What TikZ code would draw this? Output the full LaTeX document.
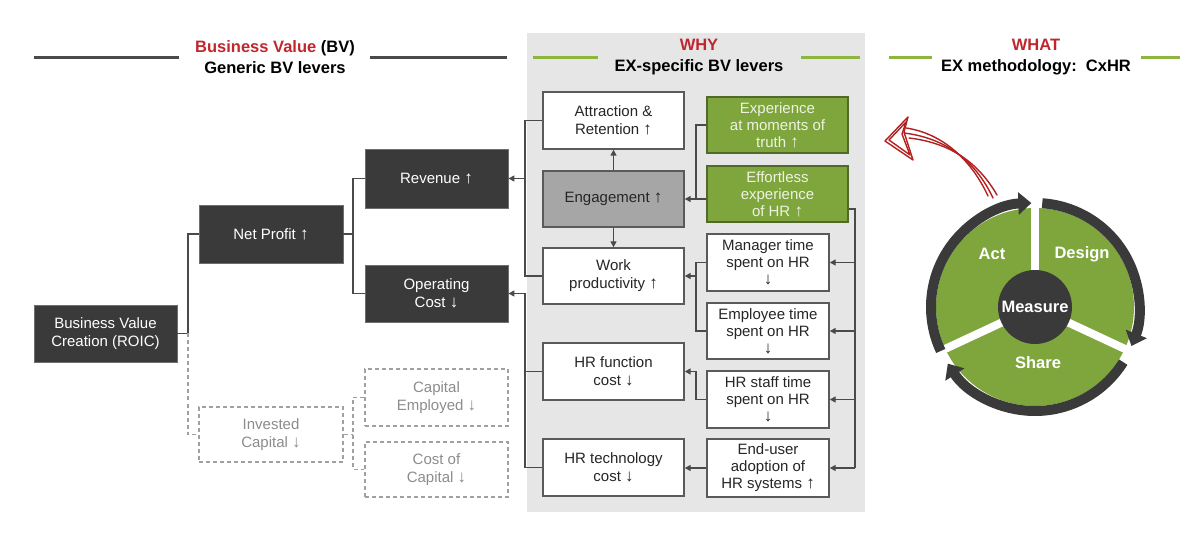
\documentclass[tikz,border=0pt]{standalone}
\usepackage{fontspec}
\setmainfont{Liberation Sans}
\usetikzlibrary{arrows.meta,calc}
\definecolor{dk}{HTML}{3A3A3A}
\definecolor{dkedge}{HTML}{6E6E6E}
\definecolor{edge}{HTML}{5A5A5A}
\definecolor{cline}{HTML}{4A4A4A}
\definecolor{panel}{HTML}{E6E6E6}
\definecolor{enggrey}{HTML}{A6A6A6}
\definecolor{cgreen}{HTML}{7EA63C}
\definecolor{gedge}{HTML}{52692C}
\definecolor{gtext}{HTML}{EEF3E2}
\definecolor{hgreen}{HTML}{8DB540}
\definecolor{hred}{HTML}{C0262D}
\definecolor{dashc}{HTML}{A0A0A0}
\definecolor{dasht}{HTML}{8C8C8C}
\definecolor{txt}{HTML}{262626}
\definecolor{arrred}{HTML}{B3201F}
\newcommand\upa{{\bfseries\fontsize{17}{17}\selectfont ↑}}
\newcommand\dna{{\bfseries\fontsize{17}{17}\selectfont ↓}}
\begin{document}
\begin{tikzpicture}[x=1pt,y=-1pt,
  basebox/.style={rectangle, inner sep=0pt, align=center, font=\fontsize{15}{18}\selectfont},
  tribox/.style={basebox, font=\fontsize{15}{17}\selectfont},
  dkbox/.style={basebox, fill=dk, draw=dkedge, line width=0.8pt, text=white},
  whbox/.style={fill=white, draw=edge, line width=1.4pt, text=txt},
  gbox/.style={fill=cgreen, draw=gedge, line width=1.4pt, text=gtext},
  engbox/.style={basebox, fill=enggrey, draw=edge, line width=1.4pt, text=txt},
  dashbox/.style={basebox, draw=dashc, line width=1.2pt, dash pattern=on 4pt off 3pt, text=dasht},
  conn/.style={draw=cline, line width=1.4pt},
  dconn/.style={draw=dashc, line width=1.3pt, dash pattern=on 4pt off 3pt},
  arr/.style={conn, -{Triangle[length=6pt,width=6pt]}},
  head/.style={align=center, font=\bfseries\fontsize{16.5}{21}\selectfont, text=black},
  hdline/.style={line width=3pt, draw=cline},
  hgline/.style={line width=3pt, draw=hgreen},
  ring/.style={draw=dk, line width=10pt, -{Triangle[length=13pt,width=22pt]}},
  clabel/.style={text=white, font=\bfseries\fontsize{16.5}{18}\selectfont},
  redarrow/.style={draw=arrred, line width=1.4pt, line cap=round, line join=round}
]
\useasboundingbox (0,0) rectangle (1200,545);

% grey panel
\fill[panel] (527,33) rectangle (865,512);

% headers
\draw[hdline] (34,58) -- (179,58);
\draw[hdline] (370,58) -- (507,58);
\node[head] (hbv) at (275,57.5) {\textcolor{hred}{Business Value} (BV)\\Generic BV levers};
\draw[hgline] (533,58) -- (598,58);
\draw[hgline] (801,58) -- (860,58);
\node[head] (hwhy) at (699,57.5) {\textcolor{hred}{WHY}\\EX-specific BV levers};
\draw[hgline] (889,58) -- (932,58);
\draw[hgline] (1141,58) -- (1180,58);
\node[head] (hwhat) at (1036,57.5) {\textcolor{hred}{WHAT}\\EX methodology:\ \ CxHR};

% generic BV boxes
\node[dkbox, minimum width=143pt, minimum height=57pt] (roic) at (105.5,333.5) {Business Value\\Creation (ROIC)};
\node[dkbox, minimum width=144pt, minimum height=58pt] (np) at (271,234) {Net Profit \upa};
\node[dkbox, minimum width=143pt, minimum height=59pt] (rev) at (436.5,178.5) {Revenue \upa};
\node[dkbox, minimum width=143pt, minimum height=57pt] (opc) at (436.5,293.5) {Operating\\Cost \dna};
\node[dashbox, minimum width=144pt, minimum height=55pt] (inv) at (271,434.5) {Invested\\Capital \dna};
\node[dashbox, minimum width=143pt, minimum height=57pt] (cape) at (436.5,397.5) {Capital\\Employed \dna};
\node[dashbox, minimum width=143pt, minimum height=55pt] (coc) at (436.5,469.5) {Cost of\\Capital \dna};

% EX-specific boxes
\node[basebox, whbox, minimum width=141pt, minimum height=57pt] (attr) at (613.5,120.5) {Attraction \&\\Retention \upa};
\node[engbox, minimum width=141pt, minimum height=56pt] (eng) at (613.5,199) {Engagement \upa};
\node[basebox, whbox, minimum width=141pt, minimum height=56pt] (work) at (613.5,276) {Work\\productivity \upa};
\node[basebox, whbox, minimum width=141pt, minimum height=57pt] (hrf) at (613.5,371.5) {HR function\\cost \dna};
\node[basebox, whbox, minimum width=141pt, minimum height=57pt] (hrt) at (613.5,467.5) {HR technology\\cost \dna};

\node[tribox, gbox, minimum width=141pt, minimum height=56pt] (exp) at (777.5,125) {Experience\\at moments of\\truth \upa};
\node[tribox, gbox, minimum width=141pt, minimum height=56pt] (eff) at (777.5,194) {Effortless\\experience\\of HR \upa};
\node[tribox, whbox, minimum width=122pt, minimum height=57pt] (mgr) at (768,262.5) {Manager time\\spent on HR\\\dna};
\node[tribox, whbox, minimum width=122pt, minimum height=56pt] (emp) at (768,331) {Employee time\\spent on HR\\\dna};
\node[tribox, whbox, minimum width=122pt, minimum height=57pt] (hrs) at (768,399.5) {HR staff time\\spent on HR\\\dna};
\node[tribox, whbox, minimum width=122pt, minimum height=58pt] (eus) at (768,468) {End-user\\adoption of\\HR systems \upa};

% bus coordinates
\coordinate (j1) at (188,0);
\coordinate (j2) at (353,0);
\coordinate (bx) at (525,0);
\coordinate (cx) at (696,0);
\coordinate (dx) at (855,0);

% generic tree
\draw[conn] (roic.east) -- (roic.east -| j1) -- (np.west -| j1) -- (np.west);
\draw[dconn] (roic.east -| j1) -- (inv.west -| j1) -- (inv.west);
\draw[conn] (np.east) -- (np.east -| j2);
\draw[conn] (rev.west) -- (rev.west -| j2) -- (opc.west -| j2) -- (opc.west);
\draw[dconn] (inv.east) -- (inv.east -| j2);
\draw[dconn] (cape.west) -- (cape.west -| j2) -- (coc.west -| j2) -- (coc.west);

% links into revenue / operating cost
\draw[conn] (attr.west) -- (attr.west -| bx) -- (work.west -| bx) -- (work.west);
\draw[arr] (rev.east -| bx) -- (rev.east);
\draw[conn] (hrf.west) -- (hrf.west -| bx);
\draw[conn] (hrt.west) -- (hrt.west -| bx) -- (opc.east -| bx);
\draw[arr] (opc.east -| bx) -- (opc.east);

% inside panel
\draw[arr] (eng.north) -- (attr.south);
\draw[arr] (eng.south) -- (work.north);
\draw[conn] (exp.west) -- (exp.west -| cx) -- (eng.east -| cx);
\draw[arr] (eng.east -| eff.west) -- (eng.east);
\coordinate (effo) at ($(eff.east)+(0,15)$);
\draw[conn] (effo) -- (effo -| dx) -- (eus.east -| dx);
\draw[arr] (mgr.east -| dx) -- (mgr.east);
\draw[arr] (emp.east -| dx) -- (emp.east);
\draw[arr] (hrs.east -| dx) -- (hrs.east);
\draw[arr] (eus.east -| dx) -- (eus.east);
\draw[conn] (mgr.west) -- (mgr.west -| cx) -- (emp.west -| cx) -- (emp.west);
\draw[arr] (work.east -| cx) -- (work.east);
\draw[arr] (hrs.west) -- (hrs.west -| cx) -- (hrf.east -| cx) -- (hrf.east);
\draw[arr] (eus.west) -- (eus.west -| hrt.east);

% CxHR cycle
\begin{scope}[shift={(1035,307)}, y=1pt]
  \fill[cgreen] (0,0) circle[radius=99];
  \foreach \a in {90,-25,205} \draw[white, line width=8pt] (0,0) -- (\a:100);
  \fill[dk] (0,0) circle[radius=37];
  \draw[ring] (205:104) arc[start angle=205, end angle=92, radius=104];
  \draw[ring] (86:104) arc[start angle=86, end angle=-22, radius=104];
  \draw[ring] (-32:104) arc[start angle=-32, end angle=-147, radius=104];
  \node[clabel] (measure) at (0,0) {Measure};
  \node[clabel] (act) at (-43,53) {Act};
  \node[clabel] (design) at (47,53) {Design};
  \node[clabel] (share) at (3,-56) {Share};
\end{scope}

% red sketch arrow
\draw[redarrow] (993,198) .. controls (975,160) and (945,138) .. (904,133);
\draw[redarrow] (988,196) .. controls (970,157) and (940,133) .. (906,128);
\draw[redarrow] (997,195) .. controls (979,164) and (952,143) .. (909,138);
\draw[redarrow] (885,141) -- (908,117) -- (904,132) -- (913,160) -- cycle;
\draw[redarrow] (889,140) -- (906,122) -- (902,134) -- (910,155) -- cycle;
\end{tikzpicture}
\end{document}
